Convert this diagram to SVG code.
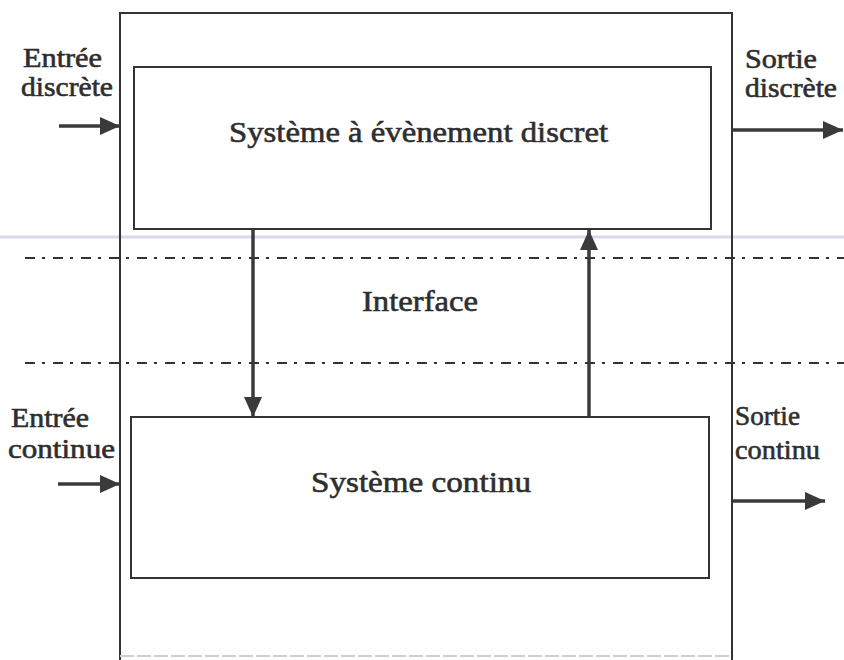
<svg xmlns="http://www.w3.org/2000/svg" width="844" height="660" viewBox="0 0 844 660">
  <style>
    .box { fill: none; stroke: #333; stroke-width: 2; }
    .lbl { font-family: "Liberation Serif", "Times New Roman", serif; fill: #2e2e2e; stroke: #2e2e2e; stroke-width: 0.6; }
    .side { font-size: 27px; }
    .main { font-size: 30px; }
    .arrow { stroke: #3a3a3a; stroke-width: 3.5; fill: none; }
    .dashdot { stroke: #333; stroke-width: 2.2; stroke-dasharray: 10 7 3 8; fill: none; }
  </style>
  <defs>
    <marker id="ah" viewBox="0 0 20 18" refX="20" refY="9" markerWidth="20" markerHeight="18" markerUnits="userSpaceOnUse" orient="auto">
      <path d="M0,0 L20,9 L0,18 Z" fill="#3a3a3a"/>
    </marker>
  </defs>
  <rect width="844" height="660" fill="#ffffff"/>
  <line x1="0" y1="237" x2="844" y2="237" stroke="#d6d9ea" stroke-width="3"/>

  <g id="outer-box">
    <line class="box" x1="120" y1="13" x2="732" y2="13"/>
    <line class="box" x1="120" y1="12" x2="120" y2="660"/>
    <line class="box" x1="732" y1="12" x2="732" y2="660"/>
    <line x1="120" y1="656" x2="732" y2="656" stroke="#cfcfcf" stroke-width="2" stroke-dasharray="14 3"/>
  </g>

  <g id="interface-lines">
    <line class="dashdot" x1="25" y1="258" x2="844" y2="258"/>
    <line class="dashdot" x1="25" y1="363" x2="844" y2="363"/>
  </g>

  <g id="discrete-system">
    <rect class="box" x="134" y="67" width="577" height="162"/>
    <text class="lbl main" x="229" y="142" textLength="379" lengthAdjust="spacingAndGlyphs">Système à évènement discret</text>
  </g>

  <g id="interface">
    <text class="lbl main" x="362" y="311" textLength="116" lengthAdjust="spacingAndGlyphs">Interface</text>
  </g>

  <g id="continuous-system">
    <rect class="box" x="131" y="417" width="578" height="161"/>
    <text class="lbl main" x="311" y="492" textLength="220" lengthAdjust="spacingAndGlyphs">Système continu</text>
  </g>

  <g id="discrete-input">
    <text class="lbl side" x="23" y="67" textLength="79" lengthAdjust="spacingAndGlyphs">Entrée</text>
    <text class="lbl side" x="21" y="96" textLength="92" lengthAdjust="spacingAndGlyphs">discrète</text>
  </g>

  <g id="discrete-output">
    <text class="lbl side" x="745" y="68" textLength="72" lengthAdjust="spacingAndGlyphs">Sortie</text>
    <text class="lbl side" x="745" y="97" textLength="92" lengthAdjust="spacingAndGlyphs">discrète</text>
  </g>

  <g id="continuous-input">
    <text class="lbl side" x="11" y="427" textLength="78" lengthAdjust="spacingAndGlyphs">Entrée</text>
    <text class="lbl side" x="8" y="458" textLength="107" lengthAdjust="spacingAndGlyphs">continue</text>
  </g>

  <g id="continuous-output">
    <text class="lbl side" x="735" y="425" textLength="65" lengthAdjust="spacingAndGlyphs">Sortie</text>
    <text class="lbl side" x="735" y="459" textLength="85" lengthAdjust="spacingAndGlyphs">continu</text>
  </g>

  <g id="connectors">
    <line class="arrow" x1="59" y1="126" x2="120" y2="126" marker-end="url(#ah)"/>
    <line class="arrow" x1="732" y1="130" x2="843" y2="130" marker-end="url(#ah)"/>
    <line class="arrow" x1="58" y1="484" x2="120" y2="484" marker-end="url(#ah)"/>
    <line class="arrow" x1="733" y1="501" x2="825" y2="501" marker-end="url(#ah)"/>
    <line class="arrow" x1="253" y1="229" x2="253" y2="417" marker-end="url(#ah)"/>
    <line class="arrow" x1="589" y1="417" x2="589" y2="230" marker-end="url(#ah)"/>
  </g>
</svg>
